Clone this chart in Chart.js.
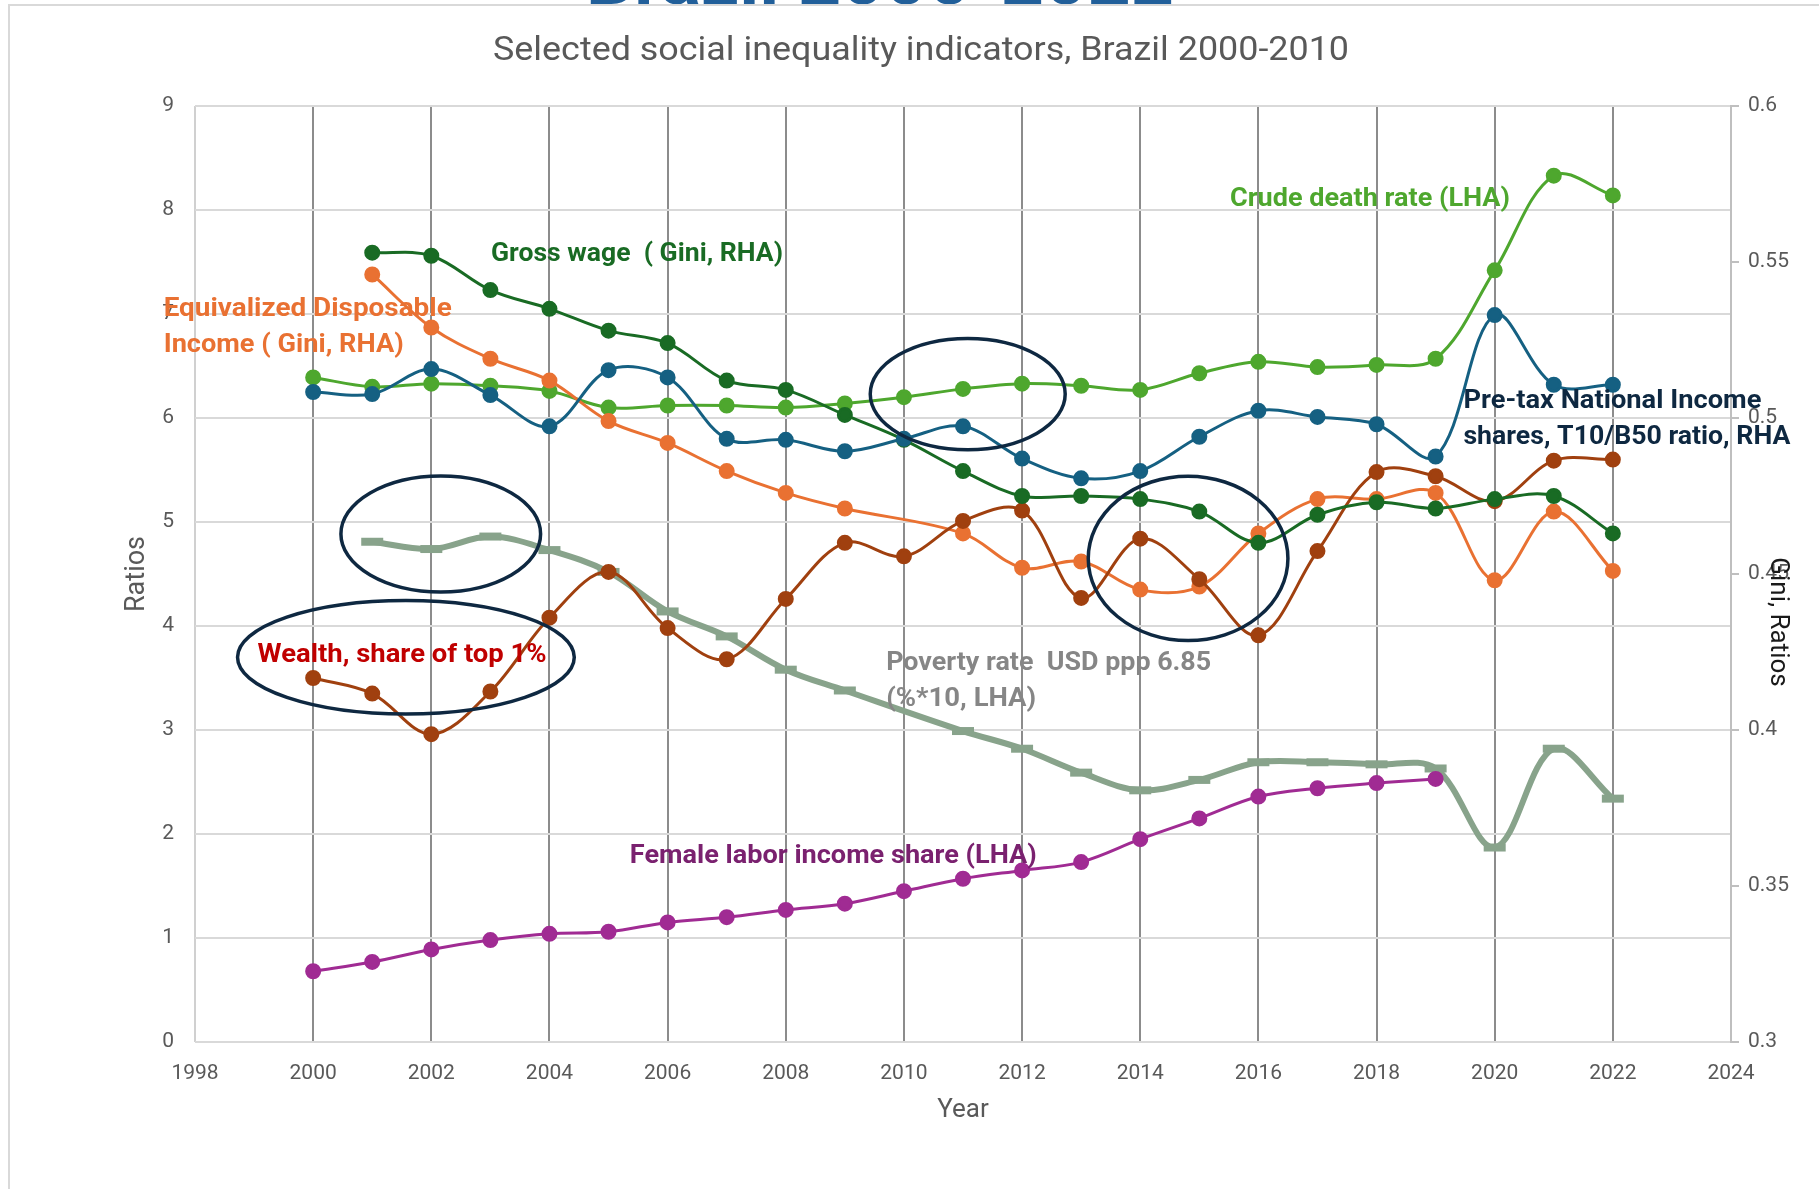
<!DOCTYPE html>
<html>
<head>
<meta charset="utf-8">
<title>Selected social inequality indicators, Brazil</title>
<script src="https://cdn.jsdelivr.net/npm/chart.js@4.4.1/dist/chart.umd.min.js"></script>
<style>
  html, body { margin: 0; padding: 0; background: #ffffff; }
  #wrap { width: 1819px; height: 1189px; position: relative; }
</style>
</head>
<body>
<div id="wrap"><canvas id="chart-brazil" width="1819" height="1189"></canvas></div>
<script>
// Indicadores de desigualdad social, Brasil 2000-2022
const years = [2000, 2001, 2002, 2003, 2004, 2005, 2006, 2007, 2008, 2009, 2010, 2011,
               2012, 2013, 2014, 2015, 2016, 2017, 2018, 2019, 2020, 2021, 2022];

// LHA
const crudeDeathRate = [6.39, 6.30, 6.33, 6.31, 6.26, 6.10, 6.12, 6.12, 6.10, 6.14, 6.20, 6.28,
                        6.33, 6.31, 6.27, 6.43, 6.54, 6.49, 6.51, 6.57, 7.42, 8.33, 8.14];
const pretaxT10B50 = [6.25, 6.23, 6.47, 6.22, 5.92, 6.46, 6.39, 5.80, 5.79, 5.68, 5.80, 5.92,
                      5.61, 5.42, 5.49, 5.82, 6.07, 6.01, 5.94, 5.63, 6.99, 6.32, 6.32];
const wealthTop1 = [3.50, 3.35, 2.96, 3.37, 4.08, 4.52, 3.98, 3.68, 4.26, 4.80, 4.67, 5.01,
                    5.11, 4.27, 4.84, 4.45, 3.91, 4.72, 5.48, 5.44, 5.20, 5.59, 5.60];
const povertyRate = [null, 4.81, 4.74, 4.86, 4.73, 4.52, 4.14, 3.90, 3.58, 3.38, null, 2.99,
                     2.82, 2.59, 2.42, 2.52, 2.69, 2.69, 2.67, 2.63, 1.87, 2.82, 2.34];
const femaleLaborShare = [0.68, 0.77, 0.89, 0.98, 1.04, 1.06, 1.15, 1.20, 1.27, 1.33, 1.45, 1.57,
                          1.65, 1.73, 1.95, 2.15, 2.36, 2.44, 2.49, 2.53, null, null, null];

// RHA (Gini)
const grossWageGini = [null, 0.553, 0.552, 0.541, 0.535, 0.528, 0.524, 0.512, 0.509, 0.501, 0.493, 0.483,
                       0.475, 0.475, 0.474, 0.470, 0.460, 0.469, 0.473, 0.471, 0.474, 0.475, 0.463];
const disposableIncomeGini = [null, 0.546, 0.529, 0.519, 0.512, 0.499, 0.492, 0.483, 0.476, 0.471, null, 0.463,
                              0.452, 0.454, 0.445, 0.446, 0.463, 0.474, 0.474, 0.476, 0.448, 0.470, 0.451];

// Ejes
const xMin = 1998, xMax = 2024, xStep = 2;
const leftMin = 0, leftMax = 9, leftStep = 1;
const rightMin = 0.3, rightMax = 0.6, rightStep = 0.05;

// Etiquetas de texto dentro del grafico (en unidades de datos: anio / eje izquierdo)
const seriesLabels = [
  { lines: ['Equivalized Disposable', 'Income ( Gini, RHA)'], year: 1997.47, value: 7.04, color: '#e97132', widths: [288, 240] },
  { lines: ['Gross wage  ( Gini, RHA)'], year: 2003.01, value: 7.57, color: '#196b24', widths: [292] },
  { lines: ['Crude death rate (LHA)'], year: 2015.52, value: 8.10, color: '#4ea72e', widths: [280] },
  { lines: ['Pre-tax National Income', 'shares, T10/B50 ratio, RHA'], year: 2019.47, value: 6.16, color: '#0e2841', widths: [298, 327] },
  { lines: ['Wealth, share of top 1%'], year: 1999.06, value: 3.72, color: '#c00000', widths: [289] },
  { lines: ['Poverty rate  USD ppp 6.85', '(%*10, LHA)'], year: 2009.70, value: 3.64, color: '#868686', widths: [325, 150] },
  { lines: ['Female labor income share (LHA)'], year: 2005.36, value: 1.78, color: '#7a216f', widths: [407] }
];

// Elipses de resaltado
const highlightEllipses = [
  { year: 2011.08, value: 6.23, rx: 1.65, ry: 0.535 },
  { year: 2002.16, value: 4.885, rx: 1.69, ry: 0.558 },
  { year: 2001.57, value: 3.70, rx: 2.85, ry: 0.546 },
  { year: 2014.81, value: 4.65, rx: 1.69, ry: 0.79 }
];

const FONT = "'Liberation Sans Narrow', 'Roboto', 'Liberation Sans', sans-serif";

function toPoints(values) {
  return years.map((yr, i) => ({ x: yr, y: values[i] }));
}

function circleSeries(label, values, color, axis) {
  return {
    label: label,
    data: toPoints(values),
    yAxisID: axis,
    borderColor: color,
    backgroundColor: color,
    pointBackgroundColor: color,
    pointBorderColor: color,
    pointRadius: 6.5,
    pointHoverRadius: 6.5,
    borderWidth: 3,
    tension: 0.35,
    spanGaps: true,
    fill: false
  };
}

// Dibuja texto ajustado a un ancho dado (simula la fuente condensada)
function drawFitted(ctx, text, x, y, font, width, align) {
  ctx.save();
  ctx.font = font;
  const w = ctx.measureText(text).width;
  const sx = width ? width / w : 1;
  ctx.translate(x, y);
  ctx.scale(sx, 1);
  ctx.textAlign = align || 'left';
  ctx.textBaseline = 'middle';
  ctx.fillText(text, 0, 0);
  ctx.restore();
}

const decorations = {
  id: 'decorations',
  beforeDraw(chart) {
    const { ctx } = chart;
    ctx.save();
    ctx.fillStyle = '#ffffff';
    ctx.fillRect(0, 0, chart.width, chart.height);
    // titulo superior cortado
    ctx.save();
    ctx.fillStyle = '#215f9a';
    ctx.font = 'bold 72px Roboto';
    const w = ctx.measureText('Brazil 2000-2022').width;
    ctx.translate(880, 4);
    ctx.scale(588 / w, 1);
    ctx.textAlign = 'center';
    ctx.textBaseline = 'alphabetic';
    ctx.fillText('Brazil 2000-2022', 0, 0);
    ctx.restore();
    // marco del grafico
    ctx.strokeStyle = '#d9d9d9';
    ctx.lineWidth = 2;
    ctx.beginPath();
    ctx.moveTo(9, chart.height);
    ctx.lineTo(9, 5);
    ctx.lineTo(chart.width, 5);
    ctx.stroke();
    ctx.restore();
  },
  afterDatasetsDraw(chart) {
    const { ctx, scales: { x, y } } = chart;
    ctx.save();
    ctx.strokeStyle = '#0e2841';
    ctx.lineWidth = 3.5;
    highlightEllipses.forEach(e => {
      const cx = x.getPixelForValue(e.year);
      const cy = y.getPixelForValue(e.value);
      const rx = x.getPixelForValue(e.year + e.rx) - cx;
      const ry = cy - y.getPixelForValue(e.value + e.ry);
      ctx.beginPath();
      ctx.ellipse(cx, cy, rx, ry, 0, 0, Math.PI * 2);
      ctx.stroke();
    });
    seriesLabels.forEach(lbl => {
      const px = x.getPixelForValue(lbl.year);
      const py = y.getPixelForValue(lbl.value);
      ctx.fillStyle = lbl.color;
      lbl.lines.forEach((t, i) => {
        drawFitted(ctx, t, px, py + i * 36, 'bold 26px Roboto', lbl.widths[i], 'left');
      });
    });
    ctx.restore();
  },
  afterDraw(chart) {
    const { ctx, chartArea } = chart;
    ctx.save();
    ctx.fillStyle = '#595959';
    drawFitted(ctx, 'Selected social inequality indicators, Brazil 2000-2010', 921, 51.5, '34px Roboto', 856, 'center');
    // titulo del eje derecho (se superpone a las etiquetas, como en el original)
    ctx.fillStyle = '#1a1a1a';
    ctx.font = '26px ' + FONT;
    ctx.translate(1777, (chartArea.top + chartArea.bottom) / 2 + 48);
    ctx.rotate(Math.PI / 2);
    ctx.textAlign = 'center';
    ctx.textBaseline = 'middle';
    ctx.fillText('Gini, Ratios', 0, 0);
    ctx.restore();
  }
};

const ctx = document.getElementById('chart-brazil');

new Chart(ctx, {
  type: 'line',
  data: {
    datasets: [
      circleSeries('Pre-tax National Income shares, T10/B50 ratio, RHA', pretaxT10B50, '#156082', 'y'),
      circleSeries('Gross wage ( Gini, RHA)', grossWageGini, '#196b24', 'y1'),
      circleSeries('Wealth, share of top 1%', wealthTop1, '#a0400f', 'y'),
      circleSeries('Equivalized Disposable Income ( Gini, RHA)', disposableIncomeGini, '#e97132', 'y1'),
      circleSeries('Crude death rate (LHA)', crudeDeathRate, '#4ea72e', 'y'),
      circleSeries('Female labor income share (LHA)', femaleLaborShare, '#a02b93', 'y'),
      {
        label: 'Poverty rate USD ppp 6.85 (%*10, LHA)',
        data: toPoints(povertyRate),
        yAxisID: 'y',
        borderColor: '#88a38b',
        backgroundColor: '#88a38b',
        pointStyle: 'line',
        pointRadius: 11,
        pointHoverRadius: 11,
        pointBorderColor: '#88a38b',
        pointBorderWidth: 8,
        borderWidth: 6,
        tension: 0.35,
        spanGaps: true,
        fill: false
      }
    ]
  },
  options: {
    responsive: false,
    animation: false,
    layout: { padding: { left: 119, right: 0, top: 106, bottom: 57 } },
    plugins: {
      legend: { display: false },
      title: { display: false },
      tooltip: { enabled: false }
    },
    scales: {
      x: {
        type: 'linear',
        min: xMin,
        max: xMax,
        afterFit(scale) { scale.height = 90; },
        ticks: {
          stepSize: xStep,
          color: '#595959',
          font: { family: FONT, size: 21 },
          padding: 19,
          maxRotation: 0,
          callback: v => String(v)
        },
        grid: {
          drawTicks: false,
          lineWidth: 2,
          color: c => (c.tick && (c.tick.value === xMin || c.tick.value === xMax)) ? '#d0d0d0' : '#8c8c8c'
        },
        border: { display: false },
        title: {
          display: true,
          text: 'Year',
          color: '#595959',
          font: { family: FONT, size: 26 },
          padding: { top: 2, bottom: 6 }
        }
      },
      y: {
        position: 'left',
        min: leftMin,
        max: leftMax,
        afterFit(scale) { scale.width = 76; },
        ticks: {
          stepSize: leftStep,
          color: '#595959',
          font: { family: FONT, size: 21 },
          padding: 21
        },
        grid: { drawTicks: false, lineWidth: 2, color: '#d9d9d9' },
        border: { display: false },
        title: {
          display: true,
          text: 'Ratios',
          color: '#595959',
          font: { family: FONT, size: 27 },
          padding: { top: 2, bottom: 0 }
        }
      },
      y1: {
        position: 'right',
        min: rightMin,
        max: rightMax,
        afterFit(scale) { scale.width = 88; },
        ticks: {
          stepSize: rightStep,
          color: '#595959',
          font: { family: FONT, size: 21 },
          padding: 9,
          callback: v => String(Number(v.toFixed(2)))
        },
        grid: { drawOnChartArea: false, drawTicks: true, tickLength: 8, lineWidth: 2, color: '#bfbfbf' },
        border: { display: true, color: '#bfbfbf', width: 2 }
      }
    }
  },
  plugins: [decorations]
});
</script>
</body>
</html>
